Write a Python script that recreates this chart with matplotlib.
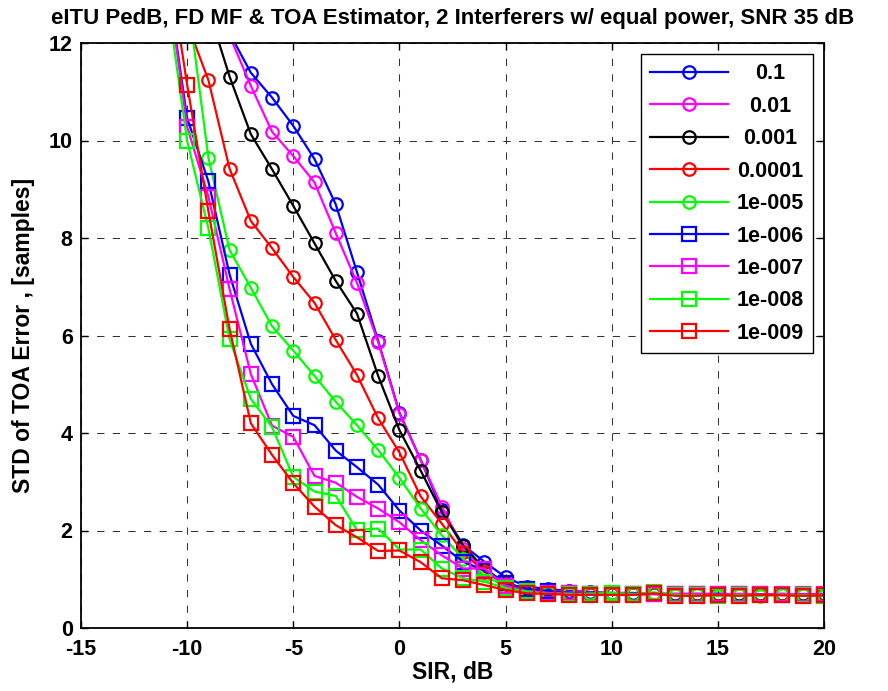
import numpy as np
import matplotlib
matplotlib.use("Agg")
import matplotlib.pyplot as plt

plt.rcParams['font.family'] = ['Liberation Sans', 'DejaVu Sans']
plt.rcParams['font.weight'] = 'bold'
plt.rcParams['axes.unicode_minus'] = False

# SIR axis, dB (first point lies above the plotted range)
sir = list(range(-11, 21))

# STD of TOA error per false-alarm threshold
std_0p1 = [18.0, 16.0, 14.0, 12.2, 11.39, 10.88, 10.30, 9.62, 8.69, 7.30, 5.89, 4.42, 3.45, 2.42, 1.70, 1.36,
           1.04, 0.85, 0.80, 0.76, 0.74, 0.72, 0.72, 0.71, 0.70, 0.70, 0.70, 0.69, 0.69, 0.69, 0.69, 0.70]
std_0p01 = [17.5, 15.5, 13.8, 12.15, 11.12, 10.18, 9.68, 9.14, 8.10, 7.08, 5.86, 4.40, 3.45, 2.49, 1.62, 1.20,
            0.92, 0.80, 0.76, 0.74, 0.72, 0.71, 0.70, 0.70, 0.69, 0.70, 0.69, 0.70, 0.69, 0.69, 0.70, 0.69]
std_1e3 = [16.0, 14.5, 12.7, 11.31, 10.13, 9.41, 8.66, 7.89, 7.12, 6.45, 5.17, 4.06, 3.23, 2.37, 1.69, 1.22,
           0.92, 0.80, 0.74, 0.72, 0.70, 0.70, 0.69, 0.70, 0.69, 0.69, 0.70, 0.69, 0.69, 0.70, 0.69, 0.69]
std_1e4 = [14.0, 12.4, 11.24, 9.42, 8.35, 7.79, 7.20, 6.67, 5.91, 5.19, 4.30, 3.60, 2.70, 2.14, 1.55, 1.15,
           0.90, 0.78, 0.73, 0.71, 0.70, 0.70, 0.69, 0.70, 0.68, 0.69, 0.69, 0.68, 0.69, 0.69, 0.68, 0.69]
std_1e5 = [15.0, 13.0, 9.65, 7.75, 6.98, 6.19, 5.69, 5.17, 4.64, 4.16, 3.65, 3.08, 2.45, 1.90, 1.42, 1.08,
           0.85, 0.76, 0.72, 0.70, 0.72, 0.72, 0.70, 0.72, 0.68, 0.67, 0.66, 0.68, 0.66, 0.68, 0.67, 0.66]
std_1e6 = [13.5, 10.46, 9.16, 7.25, 5.83, 5.00, 4.35, 4.16, 3.64, 3.30, 2.94, 2.41, 2.00, 1.69, 1.36, 1.18,
           0.92, 0.80, 0.76, 0.72, 0.70, 0.70, 0.70, 0.70, 0.69, 0.69, 0.70, 0.69, 0.69, 0.68, 0.68, 0.68]
std_1e7 = [13.5, 10.28, 8.85, 6.95, 5.21, 4.15, 3.92, 3.12, 2.98, 2.69, 2.45, 2.17, 1.80, 1.49, 1.22, 1.22,
           0.86, 0.76, 0.72, 0.71, 0.70, 0.70, 0.70, 0.69, 0.70, 0.70, 0.69, 0.70, 0.69, 0.70, 0.69, 0.69]
std_1e8 = [13.1, 9.99, 8.20, 5.92, 4.70, 4.12, 3.10, 2.80, 2.71, 2.01, 2.04, 1.61, 1.61, 1.22, 1.02, 0.95,
           0.82, 0.75, 0.70, 0.70, 0.69, 0.72, 0.69, 0.73, 0.68, 0.67, 0.66, 0.68, 0.67, 0.68, 0.67, 0.66]
std_1e9 = [14.0, 11.14, 8.55, 6.13, 4.20, 3.55, 2.97, 2.49, 2.11, 1.86, 1.58, 1.59, 1.35, 1.02, 0.98, 0.88,
           0.78, 0.71, 0.70, 0.68, 0.68, 0.68, 0.68, 0.71, 0.66, 0.66, 0.68, 0.66, 0.68, 0.67, 0.66, 0.67]

labels = ['0.1', '0.01', '0.001', '0.0001', '1e-005', '1e-006', '1e-007', '1e-008', '1e-009']
series = [std_0p1, std_0p01, std_1e3, std_1e4, std_1e5, std_1e6, std_1e7, std_1e8, std_1e9]
colors = ['#0000ff', '#ff00ff', '#000000', '#ff0000', '#00ff00',
          '#0000ff', '#ff00ff', '#00ff00', '#ff0000']
markers = ['o'] * 5 + ['s'] * 4

fig = plt.figure(figsize=(8.88, 6.91), dpi=100)
ax = fig.add_axes([81 / 888, 63 / 691, 743 / 888, 585 / 691])

for y, lab, c, m in zip(series, labels, colors, markers):
    ax.plot(sir, y, color=c, marker=m, markersize=9 if m == 'o' else 9.5,
            markerfacecolor='none', markeredgewidth=1.6, linewidth=1.6, label=lab)

ax.set_xlim(-15, 20)
ax.set_ylim(0, 12)
ax.set_xticks(np.arange(-15, 21, 5))
ax.set_yticks(np.arange(0, 13, 2))
ax.grid(True, color='#333333', linestyle=(0, (7, 8)), linewidth=0.75)
ax.tick_params(direction='in', top=True, right=True, length=5, width=1,
               labelsize=15.5)
ax.tick_params(axis='x', pad=8)
ax.tick_params(axis='y', pad=6)
for s in ax.spines.values():
    s.set_linewidth(1.3)

ax.set_title('eITU PedB, FD MF & TOA Estimator, 2 Interferers w/ equal power, SNR 35 dB',
             fontsize=16, fontweight='bold', pad=14)
ax.set_xlabel('SIR, dB', fontsize=16.5, fontweight='bold', labelpad=0)
ax.set_ylabel('STD of TOA Error , [samples]', fontsize=16.5, fontweight='bold', labelpad=10)

leg = ax.legend(loc='upper right', fontsize=15.5, fancybox=False, framealpha=1,
                edgecolor='black', handlelength=3.6, handletextpad=0.4,
                labelspacing=0.53, borderaxespad=0.5, borderpad=0.45)
leg.get_frame().set_linewidth(1.0)

# MATLAB legends centre the labels in their column
fig.canvas.draw()
r = fig.canvas.get_renderer()
texts = leg.get_texts()
widths = [t.get_window_extent(r).width for t in texts]
W = max(widths)
for t, w in zip(texts, widths):
    t.set_x((W - w) / 2)

fig.savefig('out.png', dpi=100)
